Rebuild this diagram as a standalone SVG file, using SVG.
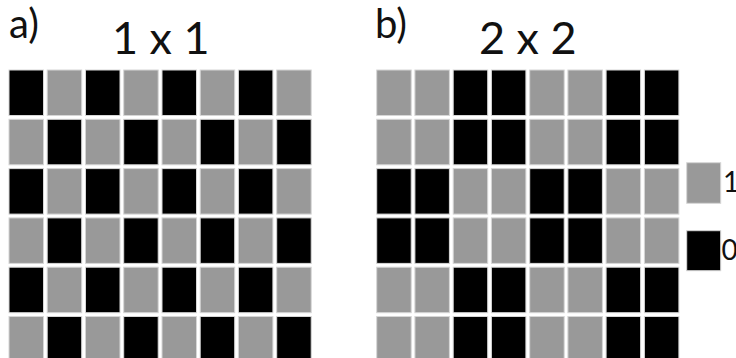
<svg xmlns="http://www.w3.org/2000/svg" width="736" height="358" viewBox="0 0 736 358">
<style>
.g{fill:#999999;stroke:#d6d6d6;stroke-width:1}
.k{fill:#000000;stroke:#d6d6d6;stroke-width:1}
.t{font-family:Lato,"Open Sans",sans-serif;fill:#111}
</style>
<rect width="736" height="358" fill="#fff"/>
<g id="panel-a">
<text class="t" x="9" y="38" font-size="40">a)</text>
<text class="t" x="112" y="53.5" font-size="45">1 x 1</text>
<g id="grid-a">
<rect class="k" x="9" y="70" width="34.5" height="45.5"/><rect class="g" x="47.2" y="70" width="34.5" height="45.5"/><rect class="k" x="85.5" y="70" width="34.5" height="45.5"/><rect class="g" x="123.7" y="70" width="34.5" height="45.5"/><rect class="k" x="162" y="70" width="34.5" height="45.5"/><rect class="g" x="200.2" y="70" width="34.5" height="45.5"/><rect class="k" x="238.4" y="70" width="34.5" height="45.5"/><rect class="g" x="276.7" y="70" width="34.5" height="45.5"/>
<rect class="g" x="9" y="119.3" width="34.5" height="45.5"/><rect class="k" x="47.2" y="119.3" width="34.5" height="45.5"/><rect class="g" x="85.5" y="119.3" width="34.5" height="45.5"/><rect class="k" x="123.7" y="119.3" width="34.5" height="45.5"/><rect class="g" x="162" y="119.3" width="34.5" height="45.5"/><rect class="k" x="200.2" y="119.3" width="34.5" height="45.5"/><rect class="g" x="238.4" y="119.3" width="34.5" height="45.5"/><rect class="k" x="276.7" y="119.3" width="34.5" height="45.5"/>
<rect class="k" x="9" y="168.6" width="34.5" height="45.5"/><rect class="g" x="47.2" y="168.6" width="34.5" height="45.5"/><rect class="k" x="85.5" y="168.6" width="34.5" height="45.5"/><rect class="g" x="123.7" y="168.6" width="34.5" height="45.5"/><rect class="k" x="162" y="168.6" width="34.5" height="45.5"/><rect class="g" x="200.2" y="168.6" width="34.5" height="45.5"/><rect class="k" x="238.4" y="168.6" width="34.5" height="45.5"/><rect class="g" x="276.7" y="168.6" width="34.5" height="45.5"/>
<rect class="g" x="9" y="217.9" width="34.5" height="45.5"/><rect class="k" x="47.2" y="217.9" width="34.5" height="45.5"/><rect class="g" x="85.5" y="217.9" width="34.5" height="45.5"/><rect class="k" x="123.7" y="217.9" width="34.5" height="45.5"/><rect class="g" x="162" y="217.9" width="34.5" height="45.5"/><rect class="k" x="200.2" y="217.9" width="34.5" height="45.5"/><rect class="g" x="238.4" y="217.9" width="34.5" height="45.5"/><rect class="k" x="276.7" y="217.9" width="34.5" height="45.5"/>
<rect class="k" x="9" y="267.2" width="34.5" height="45.5"/><rect class="g" x="47.2" y="267.2" width="34.5" height="45.5"/><rect class="k" x="85.5" y="267.2" width="34.5" height="45.5"/><rect class="g" x="123.7" y="267.2" width="34.5" height="45.5"/><rect class="k" x="162" y="267.2" width="34.5" height="45.5"/><rect class="g" x="200.2" y="267.2" width="34.5" height="45.5"/><rect class="k" x="238.4" y="267.2" width="34.5" height="45.5"/><rect class="g" x="276.7" y="267.2" width="34.5" height="45.5"/>
<rect class="g" x="9" y="316.5" width="34.5" height="45.5"/><rect class="k" x="47.2" y="316.5" width="34.5" height="45.5"/><rect class="g" x="85.5" y="316.5" width="34.5" height="45.5"/><rect class="k" x="123.7" y="316.5" width="34.5" height="45.5"/><rect class="g" x="162" y="316.5" width="34.5" height="45.5"/><rect class="k" x="200.2" y="316.5" width="34.5" height="45.5"/><rect class="g" x="238.4" y="316.5" width="34.5" height="45.5"/><rect class="k" x="276.7" y="316.5" width="34.5" height="45.5"/>
</g>
</g>
<g id="panel-b">
<text class="t" x="375" y="38" font-size="40">b)</text>
<text class="t" x="479" y="53.5" font-size="45">2 x 2</text>
<g id="grid-b">
<rect class="g" x="376.7" y="70" width="34.5" height="45.5"/><rect class="g" x="414.9" y="70" width="34.5" height="45.5"/><rect class="k" x="453.2" y="70" width="34.5" height="45.5"/><rect class="k" x="491.4" y="70" width="34.5" height="45.5"/><rect class="g" x="529.7" y="70" width="34.5" height="45.5"/><rect class="g" x="567.9" y="70" width="34.5" height="45.5"/><rect class="k" x="606.1" y="70" width="34.5" height="45.5"/><rect class="k" x="644.4" y="70" width="34.5" height="45.5"/>
<rect class="g" x="376.7" y="119.3" width="34.5" height="45.5"/><rect class="g" x="414.9" y="119.3" width="34.5" height="45.5"/><rect class="k" x="453.2" y="119.3" width="34.5" height="45.5"/><rect class="k" x="491.4" y="119.3" width="34.5" height="45.5"/><rect class="g" x="529.7" y="119.3" width="34.5" height="45.5"/><rect class="g" x="567.9" y="119.3" width="34.5" height="45.5"/><rect class="k" x="606.1" y="119.3" width="34.5" height="45.5"/><rect class="k" x="644.4" y="119.3" width="34.5" height="45.5"/>
<rect class="k" x="376.7" y="168.6" width="34.5" height="45.5"/><rect class="k" x="414.9" y="168.6" width="34.5" height="45.5"/><rect class="g" x="453.2" y="168.6" width="34.5" height="45.5"/><rect class="g" x="491.4" y="168.6" width="34.5" height="45.5"/><rect class="k" x="529.7" y="168.6" width="34.5" height="45.5"/><rect class="k" x="567.9" y="168.6" width="34.5" height="45.5"/><rect class="g" x="606.1" y="168.6" width="34.5" height="45.5"/><rect class="g" x="644.4" y="168.6" width="34.5" height="45.5"/>
<rect class="k" x="376.7" y="217.9" width="34.5" height="45.5"/><rect class="k" x="414.9" y="217.9" width="34.5" height="45.5"/><rect class="g" x="453.2" y="217.9" width="34.5" height="45.5"/><rect class="g" x="491.4" y="217.9" width="34.5" height="45.5"/><rect class="k" x="529.7" y="217.9" width="34.5" height="45.5"/><rect class="k" x="567.9" y="217.9" width="34.5" height="45.5"/><rect class="g" x="606.1" y="217.9" width="34.5" height="45.5"/><rect class="g" x="644.4" y="217.9" width="34.5" height="45.5"/>
<rect class="g" x="376.7" y="267.2" width="34.5" height="45.5"/><rect class="g" x="414.9" y="267.2" width="34.5" height="45.5"/><rect class="k" x="453.2" y="267.2" width="34.5" height="45.5"/><rect class="k" x="491.4" y="267.2" width="34.5" height="45.5"/><rect class="g" x="529.7" y="267.2" width="34.5" height="45.5"/><rect class="g" x="567.9" y="267.2" width="34.5" height="45.5"/><rect class="k" x="606.1" y="267.2" width="34.5" height="45.5"/><rect class="k" x="644.4" y="267.2" width="34.5" height="45.5"/>
<rect class="g" x="376.7" y="316.5" width="34.5" height="45.5"/><rect class="g" x="414.9" y="316.5" width="34.5" height="45.5"/><rect class="k" x="453.2" y="316.5" width="34.5" height="45.5"/><rect class="k" x="491.4" y="316.5" width="34.5" height="45.5"/><rect class="g" x="529.7" y="316.5" width="34.5" height="45.5"/><rect class="g" x="567.9" y="316.5" width="34.5" height="45.5"/><rect class="k" x="606.1" y="316.5" width="34.5" height="45.5"/><rect class="k" x="644.4" y="316.5" width="34.5" height="45.5"/>
</g>
</g>
<g id="legend">
<g id="legend-1"><rect class="g" x="686.7" y="162.7" width="34" height="40.6"/><text class="t" x="723" y="192" font-size="28">1</text></g>
<g id="legend-0"><rect class="k" x="686.7" y="230.7" width="34" height="40"/><text class="t" x="721.5" y="259.5" font-size="28">0</text></g>
</g>
</svg>
